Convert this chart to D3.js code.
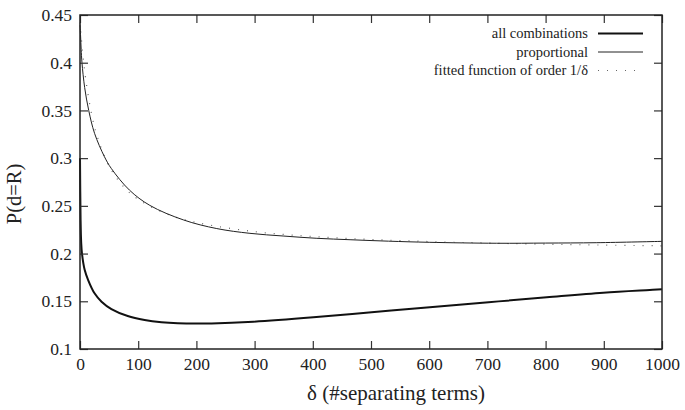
<!DOCTYPE html>
<html>
<head>
<meta charset="utf-8">
<script src="https://cdn.jsdelivr.net/npm/d3@7"></script>
<style>
  html, body { margin: 0; padding: 0; background: #fff; }
  svg { display: block; }
</style>
</head>
<body>
<svg id="chart" width="685" height="410"></svg>
<script>
// ---- data ----
const xTicks = [0, 100, 200, 300, 400, 500, 600, 700, 800, 900, 1000];
const yTicks = [0.1, 0.15, 0.2, 0.25, 0.3, 0.35, 0.4, 0.45];
const yTickLabels = ["0.1", "0.15", "0.2", "0.25", "0.3", "0.35", "0.4", "0.45"];

const allDelta = [0, 1, 2, 3.4, 8, 14, 25, 37, 54, 82, 111, 140, 168, 206, 226, 298, 401, 501, 601, 702, 802, 899, 979, 1000];
const allValues = [0.3, 0.235, 0.212, 0.2, 0.183, 0.1723, 0.1584, 0.1496, 0.1419, 0.1346, 0.1304, 0.128, 0.1269, 0.1266, 0.1267, 0.1286, 0.1332, 0.1385, 0.1437, 0.149, 0.1542, 0.159, 0.1618, 0.1625];

const propDelta = [0, 1, 2, 3.4, 8, 15, 25, 42, 54, 85, 120, 178, 235, 292, 349, 407, 464, 530, 600, 716, 800, 888, 1000];
const propValues = [0.44, 0.428, 0.414, 0.4, 0.374, 0.35, 0.326, 0.3015, 0.289, 0.2665, 0.2505, 0.2352, 0.2262, 0.2212, 0.2184, 0.216, 0.2145, 0.213, 0.2118, 0.2108, 0.211, 0.2114, 0.2128];

const fitDelta = [0, 5, 10, 20, 30, 50, 75, 100, 150, 200, 300, 400, 500, 600, 700, 800, 900, 1000];
const fitValues = [0.442, 0.408, 0.382, 0.346, 0.322, 0.2915, 0.27, 0.2568, 0.2413, 0.2326, 0.223, 0.2179, 0.2148, 0.2126, 0.211, 0.2098, 0.2089, 0.2081];

const seriesNames = ["all combinations", "proportional", "fitted function of order 1/\u03B4"];

// ---- layout ----
const FONT = '"Liberation Serif", "Times New Roman", serif';
const svg = d3.select("#chart");
const mLeft = 80, mRight = 662, mTop = 15, mBottom = 349;

const x = d3.scaleLinear().domain([0, 1000]).range([mLeft, mRight]);
const y = d3.scaleLinear().domain([0.1, 0.45]).range([mBottom, mTop]);

const fontTick = 17.5;

// curves
const line = d3.line().x(d => x(d[0])).y(d => y(d[1])).curve(d3.curveCatmullRom.alpha(0.5));
const zip = (a, b) => a.map((v, i) => [v, b[i]]);

const plot = svg.append("g");
plot.append("path").datum(zip(fitDelta, fitValues)).attr("d", line)
  .attr("fill", "none").attr("stroke", "#666").attr("stroke-width", 1.2)
  .attr("stroke-dasharray", "1,8");
plot.append("path").datum(zip(propDelta, propValues)).attr("d", line)
  .attr("fill", "none").attr("stroke", "#222").attr("stroke-width", 1);
plot.append("path").datum(zip(allDelta, allValues)).attr("d", line)
  .attr("fill", "none").attr("stroke", "#111").attr("stroke-width", 2);

// axes (inward ticks)
const xAxis = d3.axisBottom(x).tickValues(xTicks).tickSize(-8).tickSizeOuter(0).tickPadding(9)
  .tickFormat(d3.format("d"));
const gx = svg.append("g").attr("transform", `translate(0,${mBottom})`).call(xAxis);
const xTop = d3.axisTop(x).tickValues(xTicks).tickSize(-8).tickSizeOuter(0).tickFormat("");
const gxt = svg.append("g").attr("transform", `translate(0,${mTop})`).call(xTop);

const yAxis = d3.axisLeft(y).tickValues(yTicks).tickSize(-8).tickSizeOuter(0).tickPadding(8)
  .tickFormat((d, i) => yTickLabels[i]);
const gy = svg.append("g").attr("transform", `translate(${mLeft},0)`).call(yAxis);
const yRight = d3.axisRight(y).tickValues(yTicks).tickSize(-8).tickSizeOuter(0).tickFormat("");
const gyr = svg.append("g").attr("transform", `translate(${mRight},0)`).call(yRight);

[gx, gxt, gy, gyr].forEach(g => {
  g.attr("font-family", null).attr("font-size", null);
  g.select(".domain").remove();
  g.selectAll(".tick line").attr("stroke", "#333").attr("stroke-width", 1.2);
  g.selectAll("text").style("font-family", FONT)
    .style("font-size", fontTick + "px").attr("fill", "#222");
});

// frame
svg.append("rect").attr("x", mLeft).attr("y", mTop).attr("width", mRight - mLeft).attr("height", mBottom - mTop)
  .attr("fill", "none").attr("stroke", "#222").attr("stroke-width", 1.5);

// axis titles
svg.append("text").attr("x", 396).attr("y", 400).attr("text-anchor", "middle")
  .style("font-family", FONT).style("font-size", "21px").attr("fill", "#222")
  .text("\u03B4 (#separating terms)");
svg.append("text").attr("transform", "translate(21,194) rotate(-90)").attr("text-anchor", "middle")
  .style("font-family", FONT).style("font-size", "20.5px").attr("fill", "#222")
  .text("P(d=R)");

// legend
const legY = [33.5, 52, 70.5];
const legStyles = [
  {w: 2, dash: null, c: "#111"},
  {w: 1, dash: null, c: "#222"},
  {w: 1.2, dash: "1,8", c: "#666"}
];
seriesNames.forEach((name, i) => {
  svg.append("text").attr("x", 588).attr("y", legY[i] + 4.5).attr("text-anchor", "end")
    .style("font-family", FONT).style("font-size", "14.5px").attr("fill", "#222")
    .text(name);
  const l = svg.append("line").attr("x1", 598).attr("x2", 643).attr("y1", legY[i]).attr("y2", legY[i])
    .attr("stroke", legStyles[i].c).attr("stroke-width", legStyles[i].w);
  if (legStyles[i].dash) l.attr("stroke-dasharray", legStyles[i].dash);
});
</script>
</body>
</html>
